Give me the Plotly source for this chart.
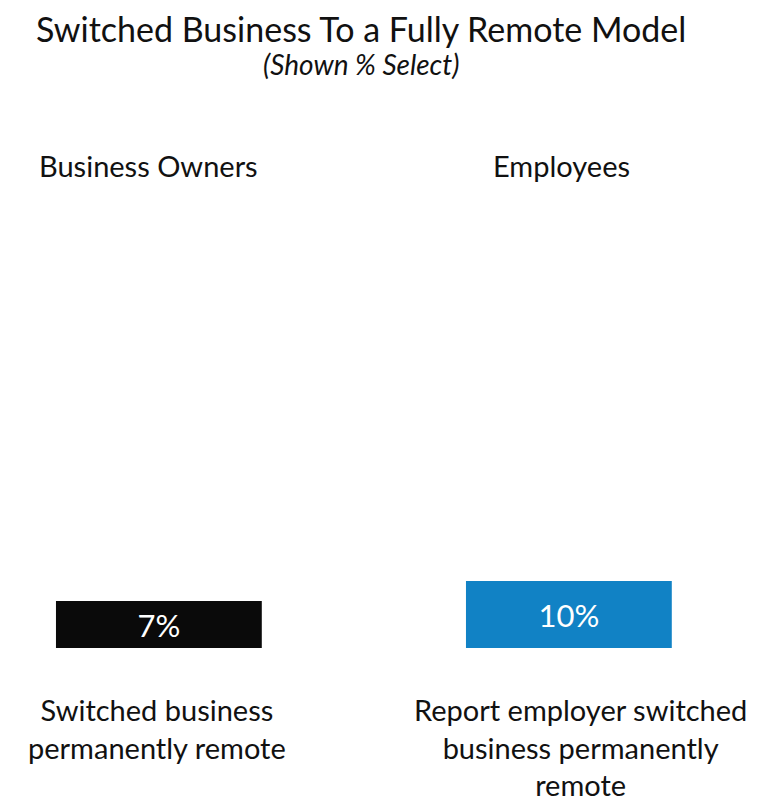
import plotly.graph_objects as go

groups = ["Business Owners", "Employees"]
values = [7, 10]
value_labels = ["7%", "10%"]
bar_colors = ["#0a0a0a", "#1182c5"]
descriptions = ["Switched business<br>permanently remote",
                "Report employer switched<br>business permanently<br>remote"]
title = "Switched Business To a Fully Remote Model"
subtitle = "(Shown % Select)"

FONT = "Lato"
x_idx = list(range(len(groups)))

fig = go.Figure(go.Bar(
    x=x_idx, y=values, text=value_labels, width=0.502,
    marker=dict(color=bar_colors, line=dict(width=0)),
    textposition="inside", insidetextanchor="middle",
    textfont=dict(family=FONT, size=31, color="white"),
    textangle=0, hoverinfo="skip",
))

# page has an 8px body margin, so the figure is sized to fit the window
W, H = 757, 795
TOP, BOTTOM = 192, 640
fig.update_layout(
    width=W, height=H,
    margin=dict(l=0, r=0, t=TOP, b=H - BOTTOM),
    paper_bgcolor="white", plot_bgcolor="white",
    showlegend=False,
    xaxis=dict(range=[-0.368, -0.368 + W / 410], visible=False, fixedrange=True),
    yaxis=dict(range=[0, 66.9], visible=False, fixedrange=True),
    uniformtext=dict(minsize=10, mode="show"),
)

def py(p):
    return (BOTTOM - p) / (BOTTOM - TOP)

annotations = [
    dict(text=title, x=353 / W, y=py(20), font=dict(family=FONT, size=34, color="#111111")),
    dict(text="<i>" + subtitle + "</i>", x=352.5 / W, y=py(56),
         font=dict(family=FONT, size=28, color="#111111")),
]
for g, cx in zip(groups, [140, 553]):
    annotations.append(dict(text=g, x=cx / W, y=py(157),
                            font=dict(family=FONT, size=29, color="#111111")))
for d, cx in zip(descriptions, [149, 572]):
    annotations.append(dict(text=d, x=cx / W, y=py(682), yanchor="top", align="center",
                            font=dict(family=FONT, size=29, color="#111111")))
for a in annotations:
    a["showarrow"] = False
    a["xref"] = "paper"
    a["yref"] = "paper"
    a.setdefault("xanchor", "center")
    a.setdefault("yanchor", "middle")
fig.update_layout(annotations=annotations)

fig.write_html("out.html")
